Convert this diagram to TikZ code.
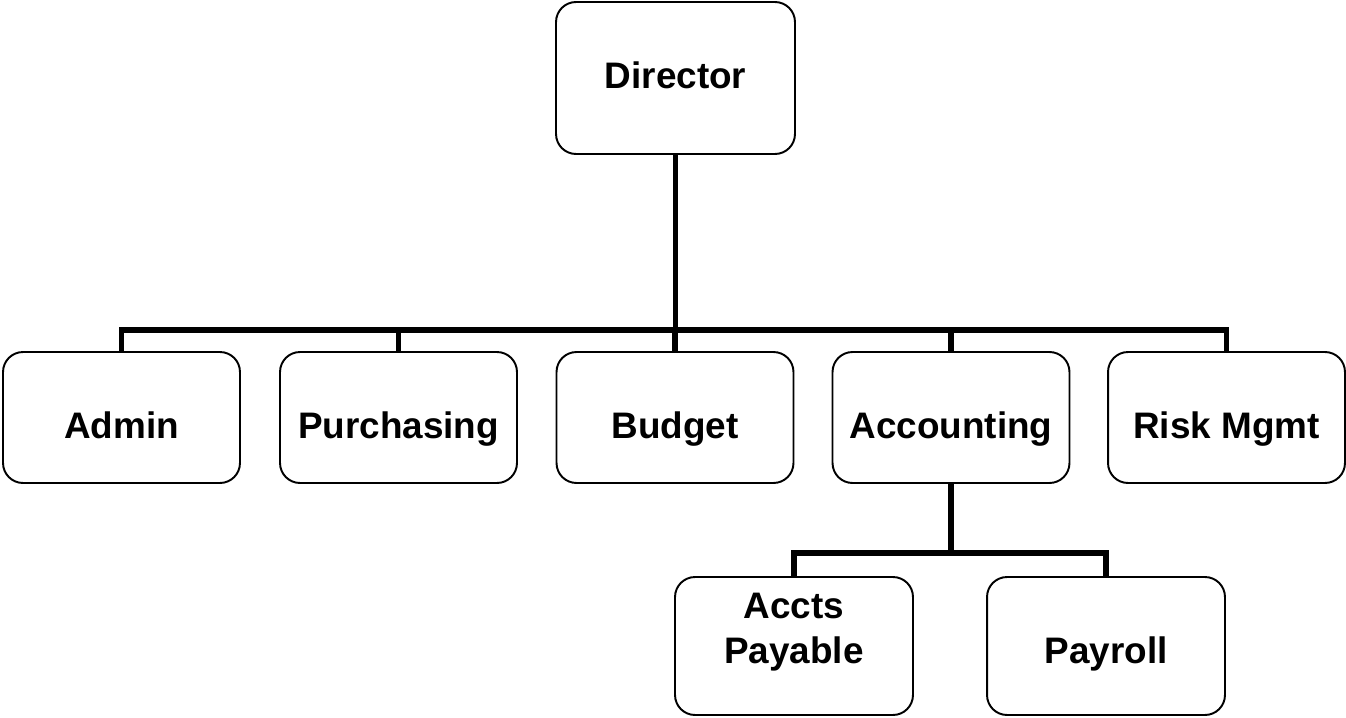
\documentclass[tikz,border=0pt]{standalone}
\usepackage{fontspec}
\setmainfont{Liberation Sans}
\usetikzlibrary{positioning}
\tikzset{
  unitbox/.style={draw,line width=1.1pt,rounded corners=0.4cm,inner sep=0pt,
    minimum width=4.74cm,minimum height=2.62cm,
    font=\fontsize{21}{25.6}\selectfont\bfseries,
    text height=0.82cm,text depth=0pt},
  link/.style={line width=3.3pt,line join=miter}
}
\begin{document}
\begin{tikzpicture}[x=0.02cm,y=-0.02cm]
\useasboundingbox (0,0) rectangle (1346,717);
% head of the office
\node[unitbox,minimum width=4.78cm,minimum height=3.04cm,text height=0.4cm] (dir) at (675.5,78) {Director};
% sections
\foreach \nm/\x/\txt in {admin/121.5/Admin,purch/398.5/Purchasing,budget/675/Budget,acct/951/Accounting,risk/1226.5/Risk Mgmt}
  \node[unitbox] (\nm) at (\x,417.5) {\txt};
% units under accounting
\node[unitbox,minimum width=4.76cm,minimum height=2.76cm,align=center,text height=0.68cm,text depth=0pt] (payable) at (794,646) {Accts\\Payable};
\node[unitbox,minimum width=4.76cm,minimum height=2.76cm,text height=0.7cm] (payroll) at (1106,646) {Payroll};
% connectors
\coordinate (bus) at (0,330);
\coordinate (subbus) at (0,553);
\foreach \nm in {admin,purch,budget,acct,risk}
  \draw[link] (dir.south) -- (dir.south |- bus) -| (\nm.north);
\foreach \nm in {payable,payroll}
  \draw[link] (acct.south) -- (acct.south |- subbus) -| (\nm.north);
\end{tikzpicture}
\end{document}
